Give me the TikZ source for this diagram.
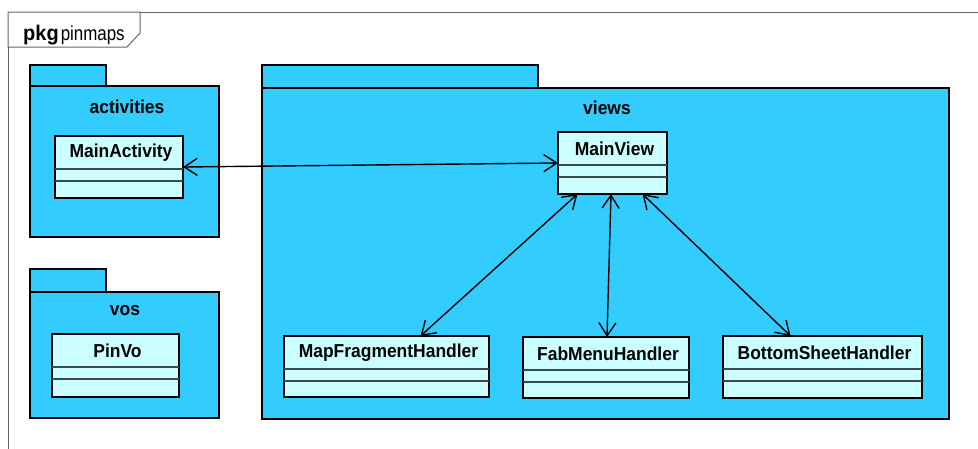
\documentclass[tikz,border=0pt]{standalone}
\usepackage{graphicx}
\usepackage{fontspec}
\setmainfont{Liberation Sans}
\usetikzlibrary{arrows.meta}
\definecolor{pkgfill}{HTML}{33CCFF}
\definecolor{clsfill}{HTML}{CCFFFF}
\definecolor{framegray}{HTML}{666666}
\definecolor{sepgray}{HTML}{3A4A4A}
% slightly narrow, tall bold lettering for names
\newcommand{\nametext}[1]{\scalebox{0.97}[1.04]{\fontsize{18}{20}\selectfont\bfseries #1}}
\tikzset{
  pkgbody/.style={draw=black, line width=2.6pt, fill=pkgfill, rectangle, anchor=north west, inner sep=0pt, outer sep=0pt},
  pkgname/.style={inner sep=0pt},
  classbox/.style={draw=black, line width=2.6pt, fill=clsfill, rectangle, anchor=north west, inner sep=0pt, outer sep=0pt},
  clsname/.style={inner sep=0pt},
  sepline/.style={draw=sepgray, line width=1.3pt},
  assoc/.style={draw=black, line width=1.4pt, {Straight Barb[length=13pt,width=17pt,line width=1.4pt]}-{Straight Barb[length=13pt,width=17pt,line width=1.4pt]}},
}
\newcommand{\umlclass}[6]{%
  % #1 name, #2 x, #3 y, #4 width, #5 height, #6 text
  \node[classbox, minimum width=#4pt, minimum height=#5pt] (#1) at (#2,#3) {};
  \node[clsname] (#1-t) at ([yshift=-17pt,xshift=2pt]#1.north) {\nametext{#6}};
  \draw[sepline] ([yshift=-33pt]#1.north west) -- ([yshift=-33pt]#1.north east);
  \draw[sepline] ([yshift=-45pt]#1.north west) -- ([yshift=-45pt]#1.north east);
}
\begin{document}
\begin{tikzpicture}[x=1pt,y=-1pt]
\clip (0,0) rectangle (978,448);
\fill[white] (0,0) rectangle (978,448);

% diagram frame and its label
\draw[framegray, line width=1pt] (8,470) -- (8,12) -- (990,12);
\draw[framegray, line width=1pt, fill=white] (8,12) -- (140,12) -- (140,33) -- (127,47) -- (8,47) -- cycle;
\node[anchor=base west, inner sep=0pt] (frametitle) at (23,40)
  {\scalebox{1}[1.06]{\fontsize{20}{22}\selectfont\bfseries pkg}\hspace{2pt}\scalebox{0.94}[1.12]{\fontsize{18}{20}\selectfont pinmaps}};

% package activities
\node[pkgbody, minimum width=76pt, minimum height=21pt] (acttab) at (30,65) {};
\node[pkgbody, minimum width=189pt, minimum height=151pt] (act) at (30,86) {};
\node[pkgname] (actlabel) at (127,107) {\nametext{activities}};

% package vos
\node[pkgbody, minimum width=76pt, minimum height=23pt] (vostab) at (30,269) {};
\node[pkgbody, minimum width=189pt, minimum height=126pt] (vos) at (30,292) {};
\node[pkgname] (voslabel) at (125,311) {\nametext{vos}};

% package views
\node[pkgbody, minimum width=276pt, minimum height=23pt] (viewtab) at (262,65) {};
\node[pkgbody, minimum width=687pt, minimum height=331pt] (views) at (262,88) {};
\node[pkgname] (viewslabel) at (607,108) {\nametext{views}};

% classes
\umlclass{ma}{55}{136}{128}{62}{MainActivity}
\umlclass{pv}{52}{334}{127}{63}{PinVo}
\umlclass{mv}{558}{132}{109}{62}{MainView}
\umlclass{mfh}{284}{336}{205}{61}{MapFragmentHandler}
\umlclass{fmh}{523}{337}{166}{61}{FabMenuHandler}
\umlclass{bsh}{723}{336}{199}{62}{BottomSheetHandler}

% associations
\draw[assoc] (ma.east) -- (mv.west);
\draw[assoc] ([xshift=-35pt]mv.south) -- ([xshift=34pt]mfh.north);
\draw[assoc] ([xshift=-1.5pt]mv.south) -- ([xshift=1pt]fmh.north);
\draw[assoc] ([xshift=30pt]mv.south) -- ([xshift=-32pt]bsh.north);
\end{tikzpicture}
\end{document}
